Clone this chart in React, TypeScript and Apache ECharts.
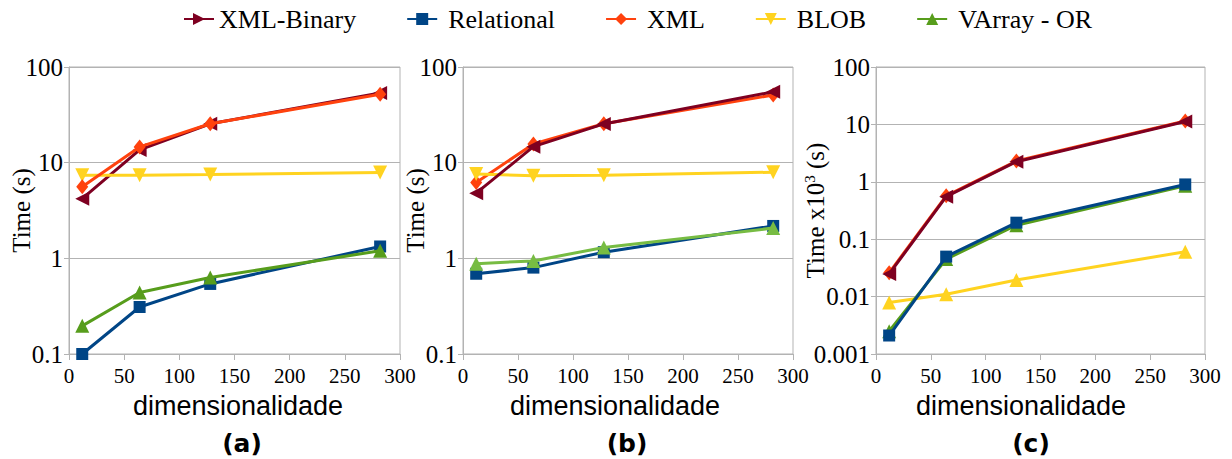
import React, { useEffect, useRef } from "react";
import * as echarts from "echarts";

const dims = [12, 64, 128, 282];
const xTicks = [0, 50, 100, 150, 200, 250, 300];

const aXmlBin = [4.2, 13.6, 25.5, 53.5];
const aRel = [0.1, 0.31, 0.54, 1.33];
const aXml = [5.6, 14.6, 25.5, 52];
const aBlob = [7.4, 7.4, 7.5, 7.9];
const aVarray = [0.197, 0.44, 0.63, 1.2];

const bXmlBin = [4.8, 14.7, 25.4, 55];
const bRel = [0.69, 0.8, 1.16, 2.18];
const bXml = [6.2, 15.7, 25.5, 51];
const bBlob = [7.6, 7.3, 7.4, 7.95];
const bVarray = [0.88, 0.94, 1.3, 2.07];

const cXmlBin = [0.0248, 0.55, 2.24, 11.2];
const cRel = [0.0021, 0.0497, 0.194, 0.9];
const cXml = [0.026, 0.57, 2.3, 11.5];
const cBlob = [0.0079, 0.011, 0.0195, 0.0605];
const cVarray = [0.0025, 0.045, 0.175, 0.85];

const yTickLabels: Record<string, string> = {
  "-3": "0.001",
  "-2": "0.01",
  "-1": "0.1",
  "0": "1",
  "1": "10",
  "2": "100",
};

const legendNames = ["XML-Binary", "Relational", "XML", "BLOB", "VArray - OR"];
const panelLabels = ["(a)", "(b)", "(c)"];

const C = {
  xmlBin: "#7E0021",
  rel: "#004586",
  xml: "#FF420E",
  blob: "#FFD320",
  varray: "#579D1C",
  varrayB: "#77BC43",
};

const GRID_COLOR = "#b3b3b3";

export default function App() {
  const ref = useRef<HTMLDivElement>(null);
  useEffect(() => {
    if (!ref.current) return;
    const chart = echarts.init(ref.current, null, { renderer: "svg" });

    const grids = [
      { left: 69, right: 832, top: 67, bottom: 105 },
      { left: 463, right: 439, top: 67, bottom: 105 },
      { left: 876, right: 27, top: 67, bottom: 105 },
    ].map((g) => ({
      ...g,
      show: true,
      borderColor: GRID_COLOR,
      borderWidth: 1,
      backgroundColor: "transparent",
    }));

    const namePads = [
      [0, 0, 0, 7],
      [0, 26, 0, 0],
      [0, 39, 0, 0],
    ];

    const xAxes = [0, 1, 2].map((i) => ({
      type: "value",
      gridIndex: i,
      min: xTicks[0],
      max: xTicks[xTicks.length - 1],
      interval: 50,
      name: "dimensionalidade",
      nameLocation: "middle",
      nameGap: 38,
      nameMoveOverlap: false,
      nameTextStyle: {
        fontFamily: "Liberation Sans",
        fontSize: 27,
        color: "#000",
        padding: namePads[i],
      },
      axisLine: { show: true, lineStyle: { color: GRID_COLOR, width: 1 } },
      axisTick: { show: true, length: 6, lineStyle: { color: GRID_COLOR } },
      splitLine: { show: false },
      axisLabel: {
        fontFamily: "Liberation Serif",
        fontSize: 21,
        color: "#000",
        margin: 11,
      },
    }));

    const yNames = ["Time (s)", "Time (s)", "Time x10{sup|3} (s)"];
    const yMins = [0.1, 0.1, 0.001];
    const yGaps = [35, 35, 47];

    const yAxes = [0, 1, 2].map((i) => ({
      type: "log",
      logBase: 10,
      gridIndex: i,
      min: yMins[i],
      max: 100,
      name: yNames[i],
      nameLocation: "middle",
      nameGap: yGaps[i],
      nameMoveOverlap: false,
      nameTextStyle: {
        fontFamily: "Liberation Serif",
        fontSize: 25,
        color: "#000",
        rich: {
          sup: {
            fontFamily: "Liberation Serif",
            fontSize: 15,
            color: "#000",
            padding: [0, 0, 12, 0],
          },
        },
      },
      axisLine: { show: true, lineStyle: { color: GRID_COLOR, width: 1 } },
      axisTick: { show: true, length: 5, lineStyle: { color: GRID_COLOR } },
      splitLine: { show: true, lineStyle: { color: GRID_COLOR, width: 1 } },
      minorTick: { show: false },
      axisLabel: {
        fontFamily: "Liberation Serif",
        fontSize: 25,
        color: "#000",
        margin: 6,
        formatter: (v: number) =>
          yTickLabels[String(Math.round(Math.log10(v)))] ?? "",
      },
    }));

    const mk = (
      name: string,
      idx: number,
      values: number[],
      color: string,
      symbol: string,
      rotate: number,
      size: number | number[],
      z: number
    ) => ({
      type: "line",
      name,
      xAxisIndex: idx,
      yAxisIndex: idx,
      data: dims.map((d, k) => [d, values[k]]),
      symbol,
      symbolRotate: rotate,
      symbolSize: size,
      showSymbol: true,
      z,
      itemStyle: { color },
      lineStyle: { color, width: 3 },
      emphasis: { disabled: true },
    });

    const series = [
      // panel a
      mk("XML-Binary", 0, aXmlBin, C.xmlBin, "triangle", 90, 14, 2),
      mk("Relational", 0, aRel, C.rel, "rect", 0, 12, 2),
      mk("XML", 0, aXml, C.xml, "diamond", 0, [12, 15], 3),
      mk("BLOB", 0, aBlob, C.blob, "triangle", 180, 14, 2),
      mk("VArray - OR", 0, aVarray, C.varray, "triangle", 0, 14, 3),
      // panel b
      mk("XML-Binary", 1, bXmlBin, C.xmlBin, "triangle", 90, 14, 3),
      mk("Relational", 1, bRel, C.rel, "rect", 0, 12, 2),
      mk("XML", 1, bXml, C.xml, "diamond", 0, [12, 15], 2),
      mk("BLOB", 1, bBlob, C.blob, "triangle", 180, 14, 2),
      mk("VArray - OR", 1, bVarray, C.varrayB, "triangle", 0, 14, 3),
      // panel c
      mk("XML-Binary", 2, cXmlBin, C.xmlBin, "triangle", 90, 14, 3),
      mk("Relational", 2, cRel, C.rel, "rect", 0, 12, 3),
      mk("XML", 2, cXml, C.xml, "diamond", 0, [12, 15], 2),
      mk("BLOB", 2, cBlob, C.blob, "triangle", 0, 14, 2),
      mk("VArray - OR", 2, cVarray, C.varray, "triangle", 0, 14, 2),
    ];

    const legendRot: Record<string, number> = {
      "XML-Binary": -90,
      Relational: 0,
      XML: 0,
      BLOB: 180,
      "VArray - OR": 0,
    };

    const labelCenters = [242, 627, 1031];

    chart.setOption({
      animation: false,
      backgroundColor: "#fff",
      legend: {
        top: 1,
        left: 178,
        itemGap: 50,
        itemWidth: 30,
        itemHeight: 15,
        selectedMode: false,
        textStyle: {
          fontFamily: "Liberation Serif",
          fontSize: 26,
          color: "#000",
          padding: [0, 0, 0, 6],
        },
        data: legendNames.map((n, i) =>
          i === 0
            ? { name: n, symbolRotate: legendRot[n], textStyle: { padding: [0, 0, 0, 0] } }
            : { name: n, symbolRotate: legendRot[n] }
        ),
      },
      grid: grids,
      xAxis: xAxes,
      yAxis: yAxes,
      series,
      graphic: panelLabels.map((t, i) => ({
        type: "text",
        x: labelCenters[i],
        y: 443,
        style: {
          text: t,
          align: "center",
          verticalAlign: "middle",
          font: 'bold 25px "DejaVu Sans"',
          fill: "#000",
        },
      })),
    });

    return () => chart.dispose();
  }, []);

  return (
    <div
      ref={ref}
      style={{
        position: "fixed",
        left: 0,
        top: 0,
        width: 1232,
        height: 459,
        background: "#fff",
      }}
    />
  );
}
